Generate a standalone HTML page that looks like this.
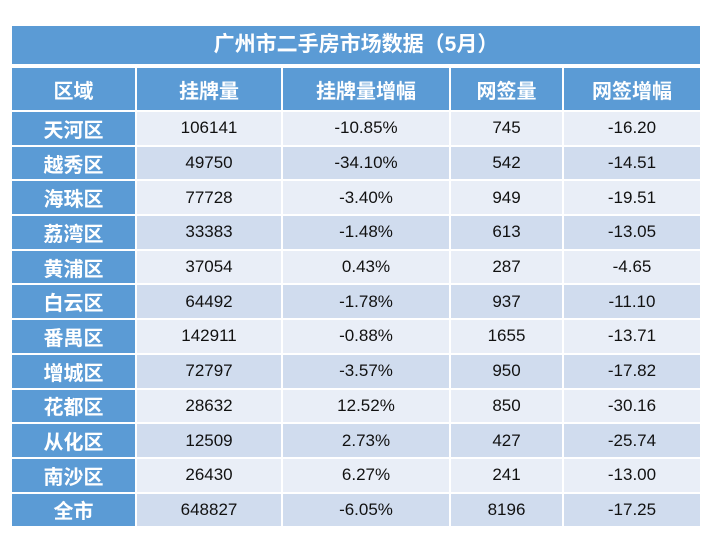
<!DOCTYPE html>
<html><head><meta charset="utf-8"><style>
body{margin:0;width:722px;height:549px;background:#fff;overflow:hidden;font-family:"Liberation Sans","Noto Sans CJK SC",sans-serif;}
.t{position:absolute;left:12px;top:26px;width:688px;height:38px;background:#5b9bd5;color:#fff;font-weight:bold;font-size:21px;line-height:38px;text-align:center;}
table{position:absolute;left:10px;top:66px;border-collapse:separate;border-spacing:2px;}
td{padding:0;text-align:center;font-size:17px;color:#111;height:32.7px;}
tr.h td{height:42px;background:#5b9bd5;color:#fff;font-weight:bold;font-size:20px;}
td.n{background:#5b9bd5;color:#fff;font-weight:bold;font-size:20px;}
tr.a td{background:#e9eef7}
tr.b td{background:#d0dcee}
tr.a td.n,tr.b td.n{background:#5b9bd5}
</style></head><body>
<div class="t">广州市二手房市场数据（5月）</div>
<table>
<colgroup><col style="width:123px"><col style="width:144px"><col style="width:166px"><col style="width:111px"><col style="width:136px"></colgroup>
<tr class="h"><td>区域</td><td>挂牌量</td><td>挂牌量增幅</td><td>网签量</td><td>网签增幅</td></tr>
<tr class="a"><td class="n">天河区</td><td>106141</td><td>-10.85%</td><td>745</td><td>-16.20</td></tr>
<tr class="b"><td class="n">越秀区</td><td>49750</td><td>-34.10%</td><td>542</td><td>-14.51</td></tr>
<tr class="a"><td class="n">海珠区</td><td>77728</td><td>-3.40%</td><td>949</td><td>-19.51</td></tr>
<tr class="b"><td class="n">荔湾区</td><td>33383</td><td>-1.48%</td><td>613</td><td>-13.05</td></tr>
<tr class="a"><td class="n">黄浦区</td><td>37054</td><td>0.43%</td><td>287</td><td>-4.65</td></tr>
<tr class="b"><td class="n">白云区</td><td>64492</td><td>-1.78%</td><td>937</td><td>-11.10</td></tr>
<tr class="a"><td class="n">番禺区</td><td>142911</td><td>-0.88%</td><td>1655</td><td>-13.71</td></tr>
<tr class="b"><td class="n">增城区</td><td>72797</td><td>-3.57%</td><td>950</td><td>-17.82</td></tr>
<tr class="a"><td class="n">花都区</td><td>28632</td><td>12.52%</td><td>850</td><td>-30.16</td></tr>
<tr class="b"><td class="n">从化区</td><td>12509</td><td>2.73%</td><td>427</td><td>-25.74</td></tr>
<tr class="a"><td class="n">南沙区</td><td>26430</td><td>6.27%</td><td>241</td><td>-13.00</td></tr>
<tr class="b"><td class="n">全市</td><td>648827</td><td>-6.05%</td><td>8196</td><td>-17.25</td></tr>
</table>
</body></html>
